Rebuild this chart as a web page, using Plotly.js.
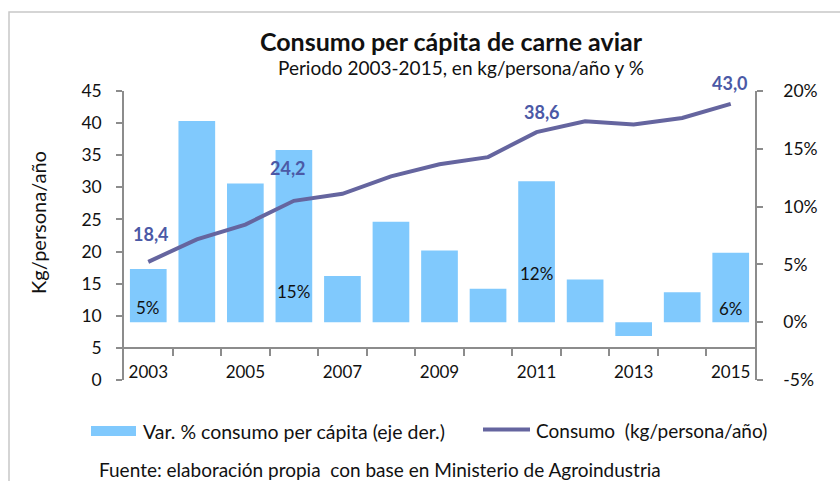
<!DOCTYPE html>
<html><head><meta charset="utf-8">
<script src="https://cdn.plot.ly/plotly-3.0.1.min.js"></script>
<style>html,body{margin:0;padding:0;background:#fff;}</style>
</head><body>
<div id="chart" style="width:840px;height:481px;"></div>
<script>
// ---- data ----
const years = [2003,2004,2005,2006,2007,2008,2009,2010,2011,2012,2013,2014,2015];
const consumo = [18.4,21.9,24.2,27.9,29.0,31.7,33.6,34.7,38.6,40.3,39.8,40.8,43.0];
const variacion = [4.6,17.4,12.0,14.9,4.0,8.7,6.2,2.9,12.2,3.7,-1.2,2.6,6.0];
const xTickYears = [2003,2005,2007,2009,2011,2013,2015];
const leftTicks = [0,5,10,15,20,25,30,35,40,45];
const rightTicks = [-5,0,5,10,15,20];
const lineLabelYears = [2003,2005,2011,2015];
const barLabelYears = [2003,2006,2011,2015];
const titleText = 'Consumo per cápita de carne aviar';
const subtitleText = 'Periodo 2003-2015, en kg/persona/año y %';
const barName = 'Var. % consumo per cápita (eje der.)';
const lineName = 'Consumo  (kg/persona/año)';
const yLeftTitle = 'Kg/persona/año';
const sourceText = 'Fuente: elaboración propia  con base en Ministerio de Agroindustria';

// ---- geometry/styles ----
const W = 840, H = 481, L = 124, R = 755, T = 91, B = 380;
const px = x => (x - L) / (R - L);
const py = y => (B - y) / (B - T);
const FONT = 'Lato, "Open Sans", "DejaVu Sans", sans-serif';
const AX = '#8c8c8c';
const BAR = '#80c9fd';
const LINE = '#65659f';
const LBL = '#4b59a6';
const TXT = '#111';

const lineLabelOffsets = {2003:[3,28], 2005:[43,57], 2011:[5,20], 2015:[-1,21]};
const barLabelOffsets = {2003:15, 2006:31, 2011:49, 2015:14};

const boundaries = years.slice(0, -1).map(y => y + 0.5);

const traces = [
  {type:'bar', x: years, y: variacion, name: barName, yaxis:'y', xaxis:'x',
   marker:{color: BAR}, hoverinfo:'x+y', showlegend:false},
  {type:'scatter', mode:'lines', x: years, y: consumo, name: lineName, yaxis:'y2', xaxis:'x',
   line:{color: LINE, width: 4}, showlegend:false}
];

const annotations = [];
lineLabelYears.forEach(yr => {
  const i = years.indexOf(yr);
  const o = lineLabelOffsets[yr];
  annotations.push({x: yr, y: consumo[i], xref:'x', yref:'y2', showarrow:false,
    text: '<b>' + consumo[i].toFixed(1).replace('.', ',') + '</b>',
    xshift: o[0], yshift: o[1], font:{family: FONT, size: 18, color: LBL}});
});
barLabelYears.forEach(yr => {
  const i = years.indexOf(yr);
  annotations.push({x: yr, y: 0, xref:'x', yref:'y', showarrow:false,
    text: Math.round(variacion[i]) + '%', yshift: barLabelOffsets[yr],
    font:{family: FONT, size: 17, color: TXT}});
});
// subtitle
annotations.push({x: px(461), y: py(67), xref:'paper', yref:'paper', showarrow:false,
  text: subtitleText, font:{family: FONT, size: 19, color: TXT}, xanchor:'center', yanchor:'middle'});
// legend texts
annotations.push({x: px(141), y: py(431), xref:'paper', yref:'paper', showarrow:false,
  text: barName, xanchor:'left', yanchor:'middle', font:{family: FONT, size: 19.5, color: TXT}});
annotations.push({x: px(534), y: py(430), xref:'paper', yref:'paper', showarrow:false,
  text: lineName, xanchor:'left', yanchor:'middle', font:{family: FONT, size: 19, color: TXT}});
// source
annotations.push({x: px(97), y: py(470), xref:'paper', yref:'paper', showarrow:false,
  text: sourceText, xanchor:'left', yanchor:'middle', font:{family: FONT, size: 19, color: TXT}});
// y-axis title
annotations.push({x: px(38), y: py(222), xref:'paper', yref:'paper', showarrow:false,
  text: yLeftTitle, textangle: -90, xanchor:'center', yanchor:'middle',
  font:{family: FONT, size: 20, color: TXT}});

const shapes = [
  {type:'rect', xref:'paper', yref:'paper', x0: px(9), x1: px(900), y0: py(12), y1: py(540),
   line:{color:'#c8c8c8', width:1.5}, fillcolor:'rgba(0,0,0,0)', layer:'below'},
  {type:'rect', xref:'paper', yref:'paper', x0: px(91), x1: px(136), y0: py(436), y1: py(426),
   line:{width:0}, fillcolor: BAR},
  {type:'line', xref:'paper', yref:'paper', x0: px(483), x1: px(530), y0: py(429.5), y1: py(429.5),
   line:{color: LINE, width: 4}}
];

const layout = {
  width: W, height: H,
  margin:{l: L, r: W - R, t: T, b: H - B, pad: 0},
  paper_bgcolor:'#fff', plot_bgcolor:'rgba(0,0,0,0)',
  font:{family: FONT, size: 17, color: TXT},
  title:{text: '<b>' + titleText + '</b>', x: 451/W, xref:'container', xanchor:'center',
         y: 1 - 42/H, yref:'container', yanchor:'middle',
         font:{family: FONT, size: 25, color: TXT}},
  bargap: 0.244,
  showlegend:false,
  xaxis:{range:[2002.5, 2015.5], tickmode:'array', tickvals: xTickYears,
    ticktext: xTickYears.map(String), ticks:'', showgrid:false, zeroline:false,
    showline:true, linecolor: AX, linewidth:1.5, anchor:'free', position: 5/45,
    ticklabelstandoff: 9, automargin:false,
    minor:{tickmode:'array', tickvals: boundaries, ticks:'outside', ticklen:7, tickcolor: AX, tickwidth:1.5, showgrid:false},
    tickfont:{family: FONT, size:17, color: TXT}},
  yaxis:{range:[-5, 20], side:'right', tickmode:'array', tickvals: rightTicks,
    ticktext: rightTicks.map(v => v + '%'), ticks:'outside', ticklen:6, tickcolor: AX, tickwidth:1.5,
    showline:true, linecolor: AX, linewidth:1.5, showgrid:false, zeroline:false,
    ticklabelstandoff: 17, automargin:false, tickfont:{family: FONT, size:17.5, color: TXT}},
  yaxis2:{range:[0, 45], side:'left', overlaying:'y', tickmode:'array', tickvals: leftTicks,
    ticks:'outside', ticklen:6, tickcolor: AX, tickwidth:1.5,
    showline:true, linecolor: AX, linewidth:1.5, showgrid:false, zeroline:false,
    ticklabelstandoff: 11, automargin:false, tickfont:{family: FONT, size:17.5, color: TXT}},
  annotations: annotations,
  shapes: shapes
};

Plotly.newPlot('chart', traces, layout, {displayModeBar:false, responsive:false});
</script>
</body></html>
